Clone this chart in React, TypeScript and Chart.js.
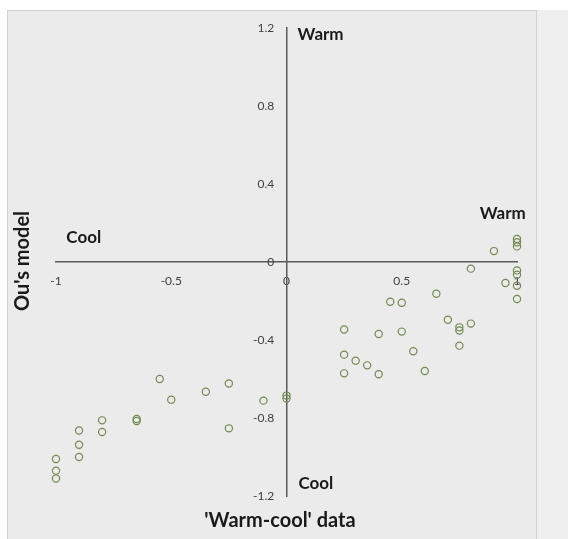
import React, { useEffect, useRef } from "react";
import { Chart, registerables } from "chart.js";

Chart.register(...registerables);

// 'Warm-cool' data (x) vs Ou's model (y)
const warmCoolData = [
  -1, -1, -1, -0.9, -0.9, -0.9, -0.8, -0.8, -0.65, -0.65,
  -0.55, -0.5, -0.35, -0.25, -0.25, -0.1, 0, 0, 0.25, 0.25,
  0.25, 0.3, 0.35, 0.4, 0.4, 0.45, 0.5, 0.5, 0.55, 0.6,
  0.65, 0.7, 0.75, 0.75, 0.75, 0.8, 0.8, 0.9, 0.95, 1,
  1, 1, 1, 1, 1, 1,
];
const ouModel = [
  -1.01, -1.07, -1.11, -0.864, -0.937, -1.0, -0.812, -0.872, -0.805, -0.815,
  -0.6, -0.706, -0.665, -0.623, -0.853, -0.711, -0.685, -0.7, -0.346, -0.475,
  -0.571, -0.506, -0.53, -0.369, -0.576, -0.204, -0.209, -0.357, -0.458, -0.559,
  -0.163, -0.296, -0.335, -0.351, -0.429, -0.316, -0.034, 0.056, -0.108, 0.118,
  0.101, 0.08, -0.043, -0.065, -0.122, -0.19,
];

const xTitle = "'Warm-cool' data";
const yTitle = "Ou's model";
const quadrantLabels = [
  { text: "Warm", x: 0.048, y: 1.166, align: "left" },
  { text: "Cool", x: -0.955, y: 0.125, align: "left" },
  { text: "Warm", x: 1.038, y: 0.248, align: "right" },
  { text: "Cool", x: 0.052, y: -1.137, align: "left" },
];

const FONT = "Lato, 'Open Sans', sans-serif";

const fmt = (v: any) => String(Math.round(Number(v) * 10) / 10);

const decorPlugin = {
  id: "decor",
  beforeDraw(chart: any) {
    const { ctx, width, height } = chart;
    ctx.save();
    ctx.fillStyle = "#ffffff";
    ctx.fillRect(0, 0, width, height);
    ctx.fillStyle = "#efefef";
    ctx.fillRect(537, 10, width - 537, height - 10);
    ctx.fillStyle = "#ebebeb";
    ctx.fillRect(7, 10, 530, height - 10);
    ctx.strokeStyle = "#d2d2d2";
    ctx.lineWidth = 1;
    ctx.strokeRect(7.5, 10.5, 529, height);
    ctx.restore();
  },
  afterDraw(chart: any) {
    const { ctx } = chart;
    const xs = chart.scales.x;
    const ys = chart.scales.y;
    ctx.save();
    ctx.fillStyle = "#1a1a1a";
    ctx.textBaseline = "middle";
    ctx.font = `bold 17px ${FONT}`;
    for (const l of quadrantLabels) {
      ctx.textAlign = l.align;
      ctx.fillText(l.text, xs.getPixelForValue(l.x), ys.getPixelForValue(l.y));
    }
    ctx.font = `bold 20px ${FONT}`;
    ctx.textAlign = "center";
    ctx.fillText(xTitle, 280, 521);
    ctx.translate(23, 261);
    ctx.rotate(-Math.PI / 2);
    ctx.fillText(yTitle, 0, 0);
    ctx.restore();
  },
};

export default function App() {
  const ref = useRef<HTMLCanvasElement>(null);
  useEffect(() => {
    const points = warmCoolData.map((x, i) => ({ x, y: ouModel[i] }));
    const chart = new Chart(ref.current as HTMLCanvasElement, {
      type: "scatter",
      data: {
        datasets: [
          {
            data: points,
            clip: false,
            pointStyle: "circle",
            pointRadius: 3.6,
            pointBorderWidth: 1.2,
            pointBorderColor: "#728a52",
            pointBackgroundColor: "rgba(0,0,0,0)",
          },
        ],
      },
      options: {
        responsive: false,
        animation: false,
        layout: { padding: { left: 56, right: 51, top: 28, bottom: 43 } },
        plugins: { legend: { display: false }, tooltip: { enabled: false } },
        scales: {
          x: {
            type: "linear",
            position: { y: 0 },
            min: -1,
            max: 1,
            grid: { display: false, drawTicks: false },
            border: { display: true, color: "#5a5a5a", width: 1.5 },
            ticks: {
              stepSize: 0.5,
              padding: 12,
              color: "#404040",
              font: { family: FONT, size: 12 },
              callback: fmt,
            },
          },
          y: {
            type: "linear",
            position: { x: 0 },
            min: -1.2,
            max: 1.2,
            grid: { display: false, drawTicks: false },
            border: { display: true, color: "#5a5a5a", width: 1.5 },
            ticks: {
              stepSize: 0.4,
              padding: 12,
              color: "#404040",
              font: { family: FONT, size: 12 },
              callback: (v: any) => fmt(v) + "    ",
            },
          },
        },
      },
      plugins: [decorPlugin],
    });
    return () => chart.destroy();
  }, []);
  return (
    <div style={{ position: "absolute", left: 0, top: 0, width: 568, height: 539 }}>
      <canvas ref={ref} width={568} height={539} />
    </div>
  );
}
